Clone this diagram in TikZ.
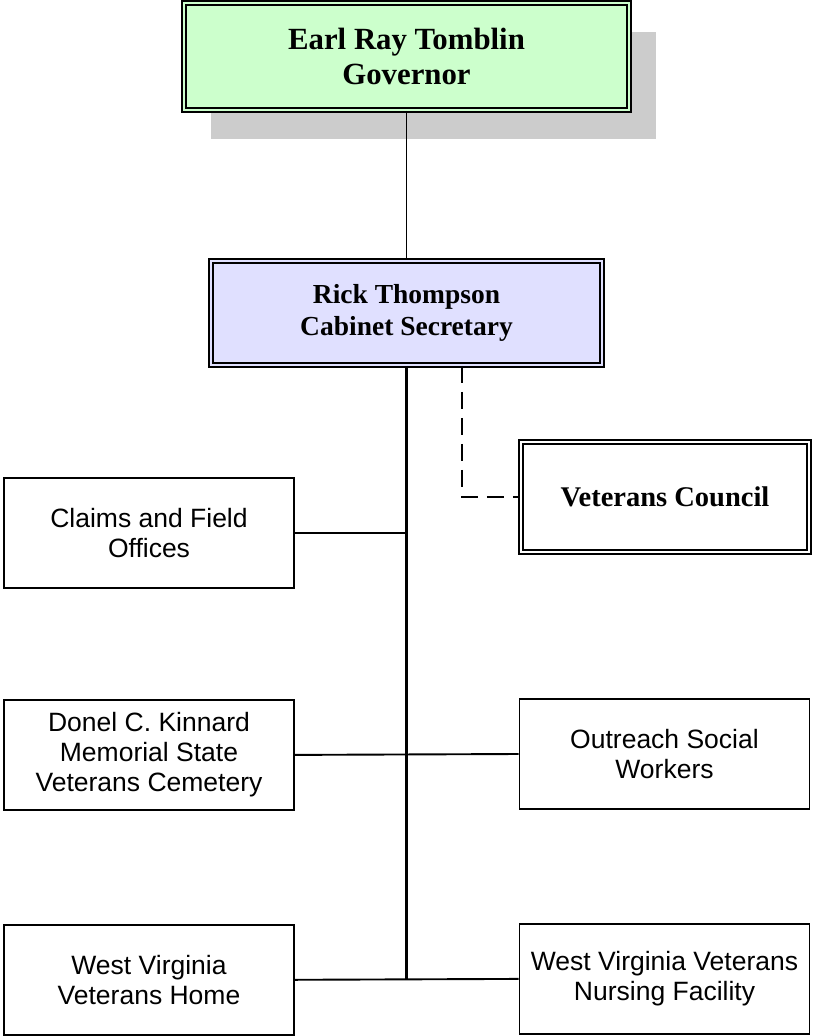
\documentclass[tikz,border=0pt]{standalone}
\usepackage{fontspec}
\setmainfont{Liberation Serif}
\setsansfont{Liberation Sans}
\usepackage{xcolor}
\usetikzlibrary{positioning, shadows}

\definecolor{govgreen}{RGB}{204,255,204}
\definecolor{seclav}{RGB}{224,224,255}
\definecolor{shadowgray}{RGB}{204,204,204}

\begin{document}
\begin{tikzpicture}[
    x=1pt, y=-1pt,
    head/.style={rectangle, draw, line width=1.7pt, double=#1, double distance=2.8pt, fill=#1, inner sep=0pt, align=center, font=\bfseries\fontsize{27.5}{32}\selectfont},
    head/.default=white,
    unit/.style={rectangle, draw, line width=1.9pt, minimum width=290pt, minimum height=110pt, inner sep=0pt, align=center, font=\sffamily\fontsize{26.5}{30}\selectfont},
    link/.style={line width=1.9pt},
    trunk/.style={line width=2.3pt},
    advise/.style={link, dash pattern=on 17pt off 9pt},
]
    \useasboundingbox (0,0) rectangle (813,1036);

    % Governor
    \node[head=govgreen, minimum width=445pt, minimum height=107pt, font=\bfseries\fontsize{30.8}{35}\selectfont,
        drop shadow={shadow xshift=27pt, shadow yshift=-29pt, fill=shadowgray, opacity=1}] (gov) at (406.5,56.5) {Earl Ray Tomblin\\Governor};

    % Cabinet secretary
    \node[head=seclav, minimum width=391pt, minimum height=104pt] (sec) at (406.5,313) {Rick Thompson\\Cabinet Secretary};

    % Council
    \node[head, minimum width=288pt, minimum height=110pt, font=\bfseries\fontsize{28.5}{32}\selectfont] (vc) at (665,497) {Veterans Council};
    \coordinate (kink) at (462,497);

    % Left column
    \node[unit] (claims) at (149,533) {Claims and Field\\Offices};
    \node[unit, below=110pt of claims] (cem) {Donel C. Kinnard\\Memorial State\\Veterans Cemetery};
    \node[unit, below=113pt of cem] (home) {West Virginia\\Veterans Home};

    % Right column
    \node[unit] (outreach) at (664.5,754) {Outreach Social\\Workers};
    \node[unit, below=113pt of outreach] (nursing) {West Virginia Veterans\\Nursing Facility};

    % Lines
    \draw[link] (gov.south) -- (sec.north);
    \draw[trunk] (sec.south) -- (sec.south |- home.east);
    \draw[advise] (sec.south -| kink) |- (vc.west);
    \draw[link] (claims.east) -- (claims.east -| sec.south);
    \draw[link] (cem.east) -- (outreach.west);
    \draw[link] (home.east) -- (nursing.west);

\end{tikzpicture}
\end{document}
